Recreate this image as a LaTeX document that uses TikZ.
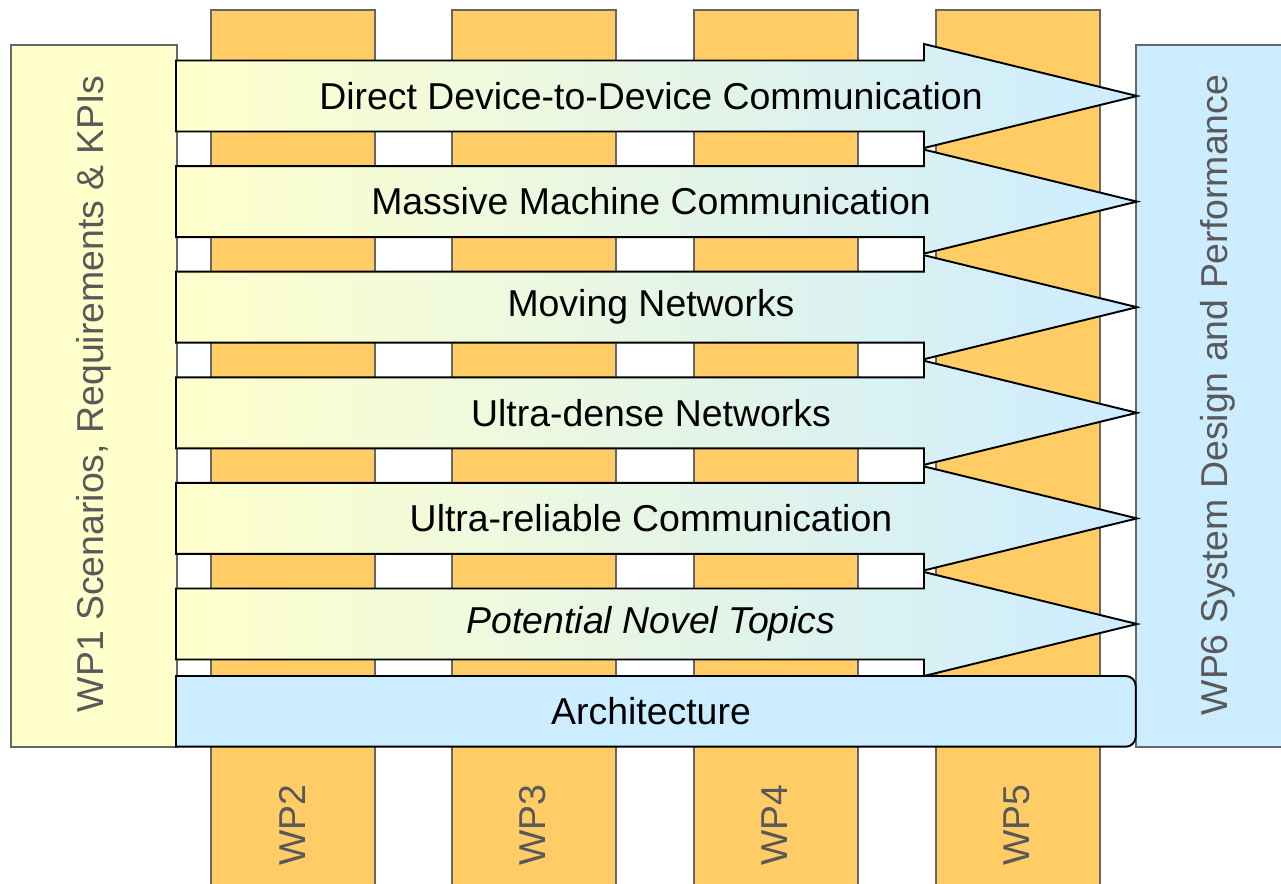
\documentclass[tikz,border=0pt]{standalone}
\usepackage{fontspec}
\setmainfont{Liberation Sans}
\usetikzlibrary{positioning}

\definecolor{wporange}{HTML}{FFCC66}
\definecolor{wpyellow}{HTML}{FFFFCC}
\definecolor{wpblue}{HTML}{CCECFF}
\definecolor{wpgray}{HTML}{666666}
\definecolor{wptext}{HTML}{595959}

\newcommand{\px}{0.02cm}

\tikzset{
    wpcol/.style={draw=wpgray, line width=1.1pt, fill=wporange, minimum width=164*\px,
        minimum height=900*\px, anchor=north west, inner sep=0pt},
    wpbox/.style={draw=wpgray, line width=1.1pt, minimum height=702*\px,
        anchor=north west, inner sep=0pt},
    wplabel/.style={rotate=90, text=wptext, font=\fontsize{21.3}{25}\selectfont},
    topic/.style={font=\fontsize{21.3}{25}\selectfont},
    band/.style={draw=black, line width=1.1pt, left color=wpyellow, right color=wpblue},
}

\begin{document}
\begin{tikzpicture}[x=\px, y=-\px]
        \useasboundingbox (0,0) rectangle (1281,883);
        \clip (0,0) rectangle (1281,883);

        % Add the work package columns
        \foreach \x/\n in {210/2, 451/3, 693/4, 935/5}{
            \node[wpcol] (wp\n) at (\x,9) {};
            \node[wplabel] (wp\n label) at (\x+82,825) {WP\n};
        }

        % Add the side boxes
        \node[wpbox, fill=wpyellow, minimum width=166*\px] (wp1) at (10,44) {};
        \node[wplabel] (wp1 label) at (94,394) {WP1 Scenarios, Requirements \& KPIs};
        \node[wpbox, fill=wpblue, minimum width=160*\px] (wp6) at (1135,44) {};
        \node[wplabel] (wp6 label) at (1218,395) {WP6 System Design and Performance};

        % Add the topic arrows
        \foreach \n/\lbl [count=\i] in {d2d/Direct Device-to-Device Communication,
            mmc/Massive Machine Communication, mn/Moving Networks,
            udn/Ultra-dense Networks, urc/Ultra-reliable Communication,
            pnt/\textit{Potential Novel Topics}}{
            \pgfmathsetmacro{\yc}{96+(\i-1)*105.6}
            \shadedraw[band] (176,\yc-35.5) -- (924,\yc-35.5) -- (924,\yc-52)
                -- (1137,\yc) -- (924,\yc+52) -- (924,\yc+35.5) -- (176,\yc+35.5) -- cycle;
            \node[topic] (\n) at (651,\yc) {\lbl};
        }

        % Add the architecture bar (square on the left, round on the right)
        \node[minimum width=959*\px, minimum height=70*\px, anchor=north west, inner sep=0pt]
            (arch) at (176,676) {};
        \draw[fill=wpblue, line width=1.1pt] (arch.south) -- (arch.south west)
            -- (arch.north west) -- (arch.north) [rounded corners=0.2cm]
            -- (arch.north east) -- (arch.south east) -- cycle;
        \node[topic] (arch label) at (651,711) {Architecture};
\end{tikzpicture}
\end{document}
